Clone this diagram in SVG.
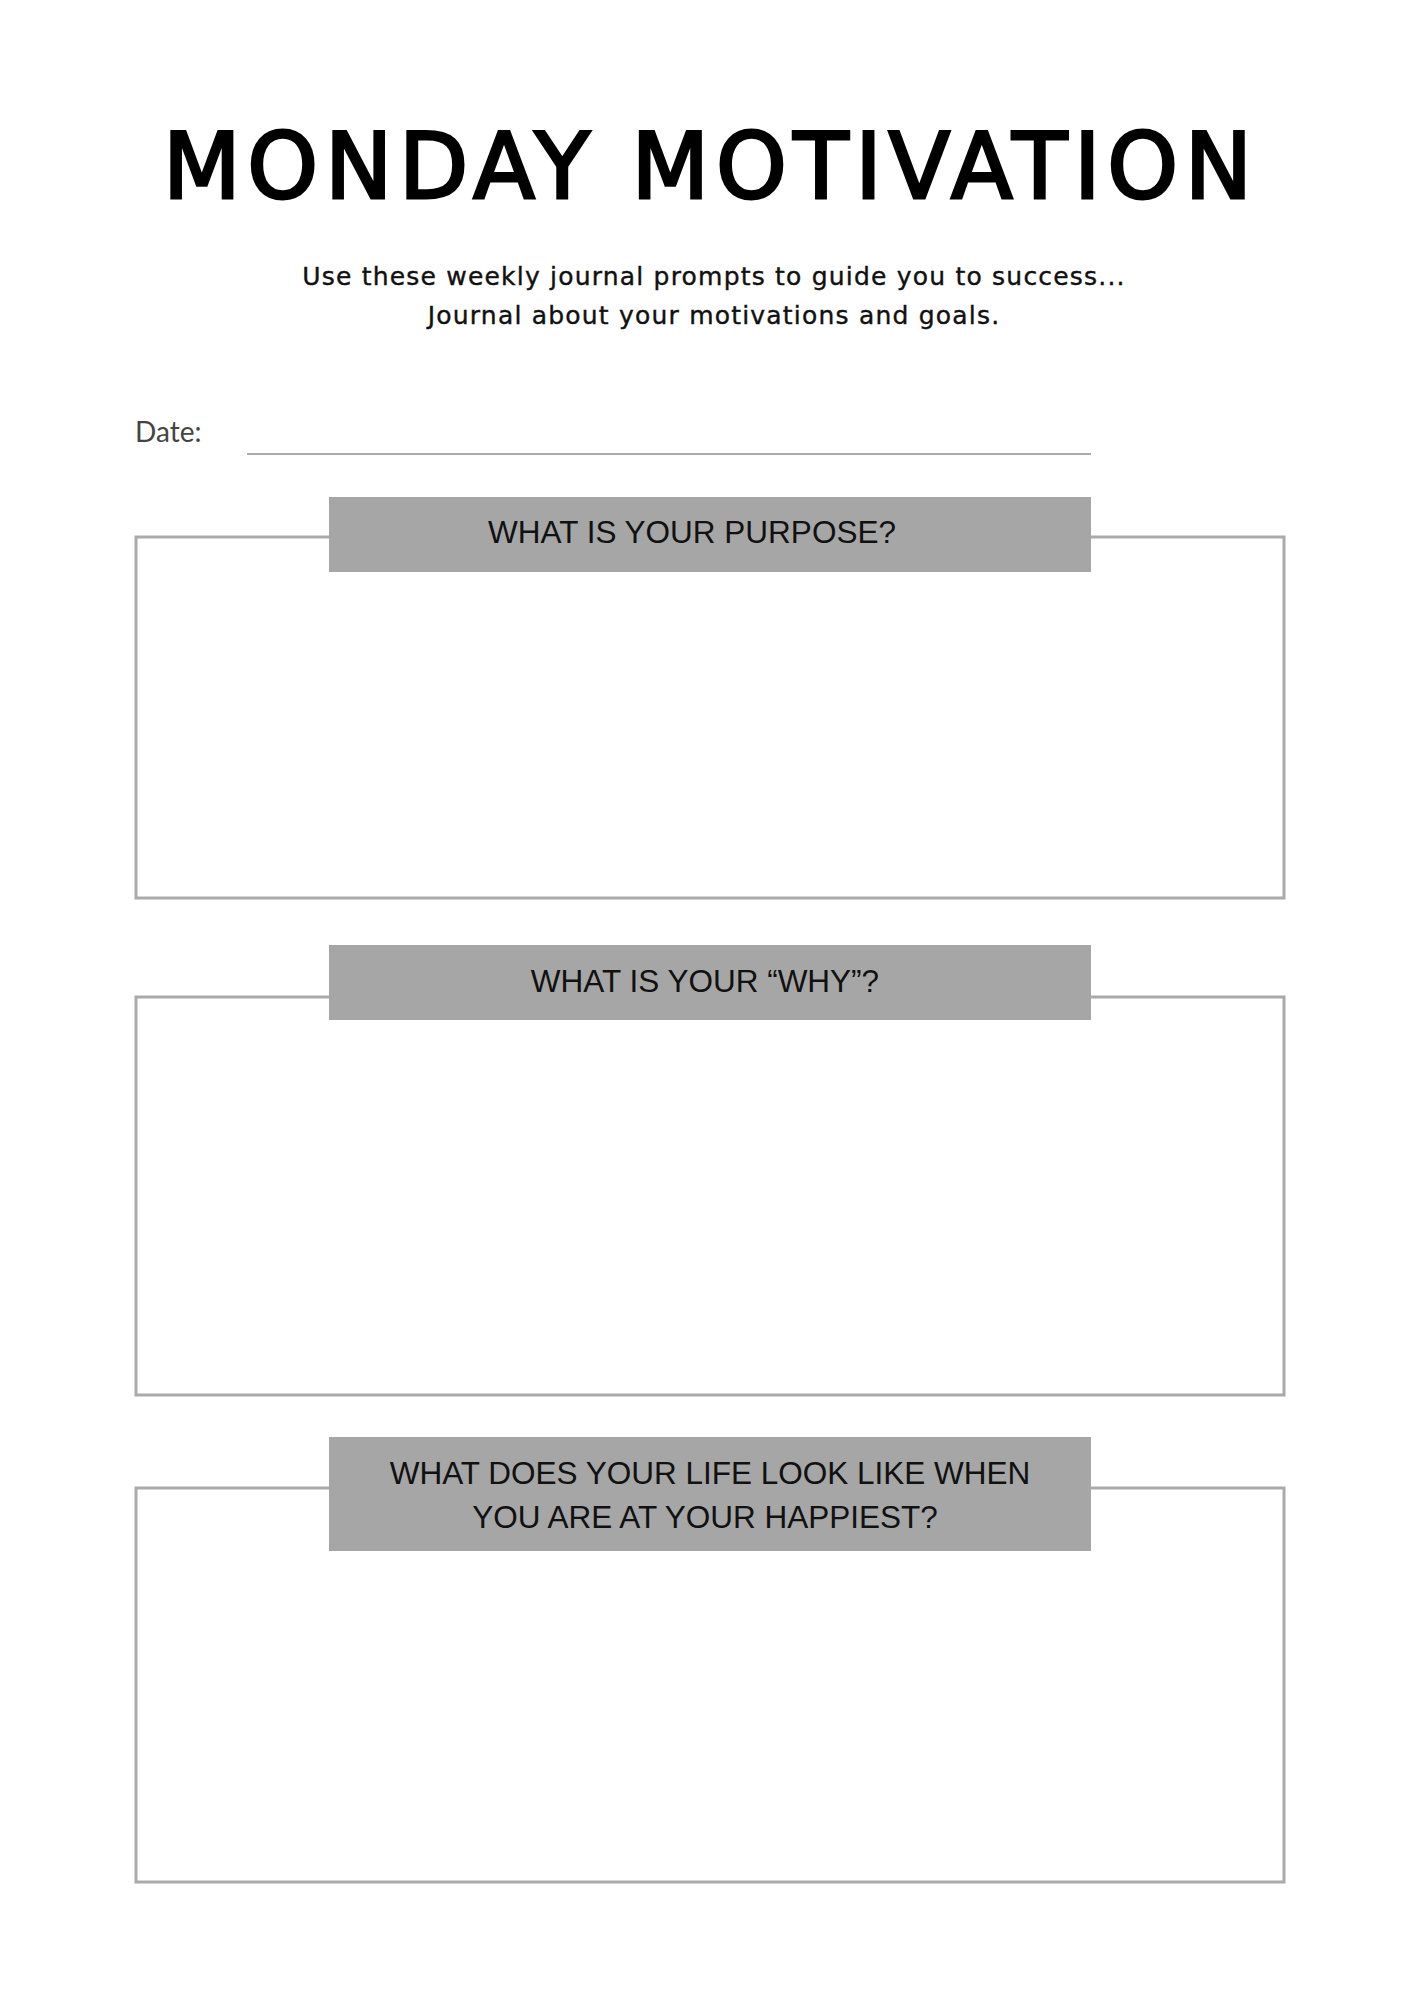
<svg xmlns="http://www.w3.org/2000/svg" width="1414" height="2000" viewBox="0 0 1414 2000">
<style>
.box{fill:#fff;stroke:#aaa;stroke-width:3}
.hdr{fill:#a6a6a6}
.ht{font-family:"Liberation Sans",Arial,sans-serif;font-size:31.5px;fill:#111;text-anchor:middle}
.sub{font-family:"DejaVu Sans",sans-serif;font-size:25px;font-weight:500;fill:#111;text-anchor:middle;letter-spacing:1.2px;stroke:#111;stroke-width:0.4}
</style>
<rect width="1414" height="2000" fill="#fff"/>
<text x="163" y="198" font-family="DejaVu Sans,sans-serif" font-size="90" textLength="1089" lengthAdjust="spacing" fill="#000" stroke="#000" stroke-width="3">MONDAY MOTIVATION</text>
<text class="sub" x="714" y="285">Use these weekly journal prompts to guide you to success...</text>
<text class="sub" x="714" y="324">Journal about your motivations and goals.</text>
<text x="135" y="442" font-family="Lato,sans-serif" font-size="28" fill="#444">Date:</text>
<line x1="247" y1="454" x2="1091" y2="454" stroke="#aaa" stroke-width="2"/>
<g id="box1">
<rect class="box" x="136" y="537" width="1148" height="361"/>
<rect class="hdr" x="329" y="497" width="762" height="75"/>
<text class="ht" x="692" y="543">WHAT IS YOUR PURPOSE?</text>
</g>
<g id="box2">
<rect class="box" x="136" y="997" width="1148" height="398"/>
<rect class="hdr" x="329" y="945" width="762" height="75"/>
<text class="ht" x="705" y="992">WHAT IS YOUR “WHY”?</text>
</g>
<g id="box3">
<rect class="box" x="136" y="1488" width="1148" height="394"/>
<rect class="hdr" x="329" y="1437" width="762" height="114"/>
<text class="ht" x="710" y="1484">WHAT DOES YOUR LIFE LOOK LIKE WHEN</text>
<text class="ht" x="705" y="1528">YOU ARE AT YOUR HAPPIEST?</text>
</g>
</svg>
